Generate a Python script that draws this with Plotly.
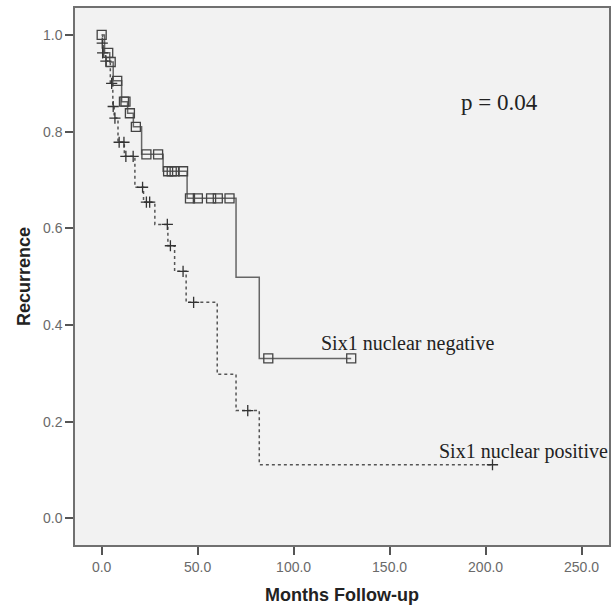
import plotly.graph_objects as go

# Six1 nuclear negative: step times and survival after each step
neg_time = [0, 1.5, 4.2, 6.0, 10.4, 13.5, 16.5, 20.8, 32.0, 44.5, 70.0, 82.1, 130.0]
neg_surv = [1.0, 0.963, 0.944, 0.905, 0.862, 0.838, 0.810, 0.753, 0.718, 0.662, 0.499, 0.331, 0.331]
neg_cens_t = [0, 3.4, 4.7, 8.1, 11.6, 12.4, 14.7, 17.8, 23.3, 29.4, 34.6, 36.5, 38.0, 42.4,
              46.0, 50.1, 57.0, 60.5, 66.6, 86.8, 130.0]
neg_cens_s = [1.0, 0.963, 0.944, 0.905, 0.862, 0.862, 0.838, 0.810, 0.753, 0.753, 0.718, 0.718, 0.718, 0.718,
              0.662, 0.662, 0.662, 0.662, 0.662, 0.331, 0.331]

# Six1 nuclear positive
pos_time = [0, 0.5, 1.0, 2.0, 4.5, 5.8, 6.5, 8.5, 11.8, 17.3, 21.8, 27.7, 34.5, 38.0, 44.0,
            60.2, 70.0, 82.1, 203.6]
pos_surv = [1.0, 0.983, 0.963, 0.946, 0.900, 0.852, 0.828, 0.778, 0.749, 0.685, 0.654, 0.608,
            0.564, 0.511, 0.447, 0.298, 0.223, 0.111, 0.111]
pos_cens_t = [0.3, 0.5, 2.2, 5.2, 6.0, 6.9, 9.1, 11.6, 12.6, 16.4, 21.3, 23.3, 25.0, 34.2, 35.8,
              42.4, 47.9, 76.1, 203.6]
pos_cens_s = [0.983, 0.963, 0.946, 0.900, 0.852, 0.828, 0.778, 0.778, 0.749, 0.749, 0.685, 0.654,
              0.654, 0.608, 0.564, 0.511, 0.447, 0.223, 0.111]

labels = ["Six1 nuclear negative", "Six1 nuclear positive"]
p_text = "p = 0.04"

fig = go.Figure()
fig.add_trace(go.Scatter(x=pos_time, y=pos_surv, mode="lines", line_shape="hv",
                         line=dict(color="#555555", width=1.5, dash="dot"), showlegend=False))
fig.add_trace(go.Scatter(x=neg_time, y=neg_surv, mode="lines", line_shape="hv",
                         line=dict(color="#666666", width=1.5), showlegend=False))
fig.add_trace(go.Scatter(x=pos_cens_t, y=pos_cens_s, mode="markers",
                         marker=dict(symbol="cross-thin-open", size=8, color="#333333",
                                     line=dict(color="#333333", width=1.3)),
                         showlegend=False))
fig.add_trace(go.Scatter(x=neg_cens_t, y=neg_cens_s, mode="markers",
                         marker=dict(symbol="square-open", size=9, color="#444444",
                                     line=dict(color="#444444", width=1.3)),
                         showlegend=False))

serif = "Liberation Serif, Times New Roman, serif"
fig.add_annotation(x=113.3, y=0.361, text=labels[0], showarrow=False, xanchor="left",
                   yanchor="middle", font=dict(family=serif, size=20, color="#222222"))
fig.add_annotation(x=174.5, y=0.139, text=labels[1], showarrow=False, xanchor="left",
                   yanchor="middle", font=dict(family=serif, size=20, color="#222222"))
fig.add_annotation(x=186, y=0.86, text=p_text, showarrow=False, xanchor="left",
                   yanchor="middle", font=dict(family=serif, size=23, color="#222222"))

sans = "Liberation Sans, Arial, sans-serif"
axis_common = dict(showline=True, linecolor="#707070", linewidth=1.5, mirror=True,
                   ticks="outside", ticklen=8, tickwidth=2, tickcolor="#555555",
                   showgrid=False, zeroline=False,
                   tickfont=dict(family=sans, size=14, color="#6a6a6a"))

fig.update_xaxes(range=[-13.9, 264.3], tickvals=[0, 50, 100, 150, 200, 250], tickformat=".1f",
                 title=dict(text="<b>Months Follow-up</b>", standoff=15,
                            font=dict(family=sans, size=18, color="#222222")),
                 **axis_common)
fig.update_yaxes(range=[-0.055, 1.0557], tickvals=[0, 0.2, 0.4, 0.6, 0.8, 1.0], tickformat=".1f",
                 title=dict(text="<b>Recurrence</b>", standoff=8,
                            font=dict(family=sans, size=18, color="#222222")),
                 **axis_common)

fig.update_layout(width=615, height=606, margin=dict(l=75, r=4, t=8, b=59),
                  plot_bgcolor="#f2f2f2", paper_bgcolor="white")

fig.write_html("out.html", config={"displayModeBar": False},
               post_script="document.body.style.margin='0';document.body.style.overflow='hidden';")
